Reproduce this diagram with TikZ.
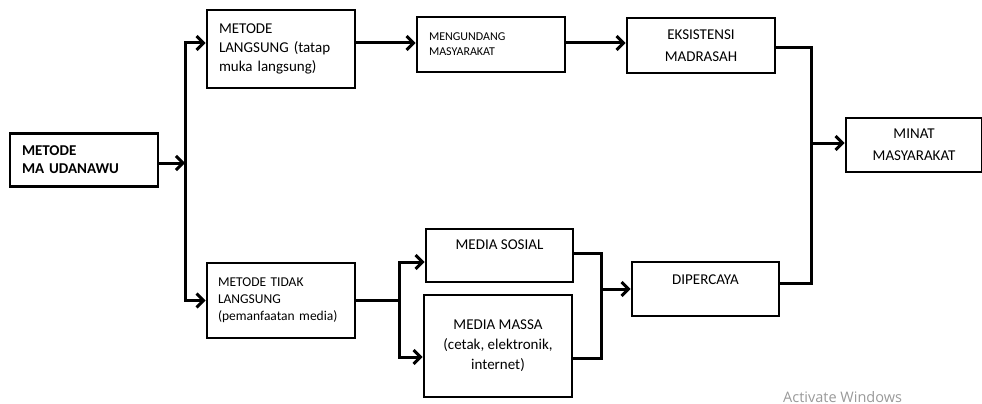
\documentclass[tikz,border=0pt]{standalone}
\usepackage{fontspec}
\setmainfont{Carlito}
\newfontfamily\wmfont{Open Sans}
\usetikzlibrary{arrows.meta}
\begin{document}
\begin{tikzpicture}[x=1pt,y=-1pt,
  box/.style={draw, line width=2.6pt, inner sep=0pt},
  lbox/.style={box, align=left, inner xsep=12pt, text width=124pt},
  cbox/.style={box, align=center},
  conn/.style={line width=3pt, line join=miter},
  arr/.style={-{Straight Barb[length=7pt,width=14pt]}},
  fbig/.style={font=\fontsize{15}{19}\selectfont}
]
\useasboundingbox (0,0) rectangle (982,404);

% boxes
\node[lbox, minimum height=53pt, font=\fontsize{15}{18}\selectfont\bfseries] (ma) at (84,160) {METODE\\MA UDANAWU};
\node[lbox, minimum height=78pt, fbig] (ml) at (281,49) {METODE\\LANGSUNG (tatap\\muka langsung)};
\node[lbox, minimum height=55pt, font=\fontsize{12}{15}\selectfont] (mg) at (491,44.5) {MENGUNDANG\\MASYARAKAT};
\node[cbox, minimum width=148pt, minimum height=55pt, font=\fontsize{15}{21.5}\selectfont] (ek) at (701,45.5) {EKSISTENSI\\MADRASAH};
\node[cbox, minimum width=136pt, minimum height=54pt, font=\fontsize{15}{22}\selectfont] (mn) at (914,145) {MINAT\\MASYARAKAT};
\node[box, align=left, inner xsep=11pt, text width=126pt, minimum height=75pt, font=\fontsize{13.5}{17}\selectfont] (mt) at (281,300.5) {METODE TIDAK\\LANGSUNG\\(pemanfaatan media)};
\node[box, minimum width=147pt, minimum height=53pt] (ms) at (499.5,255.5) {};
\node[fbig, anchor=base, inner sep=0pt] (tms) at ([yshift=-22pt]ms.north) {MEDIA SOSIAL};
\node[cbox, minimum width=148pt, minimum height=102pt, font=\fontsize{15}{20}\selectfont] (mm) at (498,346) {MEDIA MASSA\\(cetak, elektronik,\\internet)};
\node[box, minimum width=147pt, minimum height=54pt] (dp) at (705.5,289) {};
\node[fbig, anchor=base, inner sep=0pt] (tdp) at ([yshift=-24pt]dp.north) {DIPERCAYA};

% junction coordinates
\coordinate (j0) at (185,163);
\coordinate (sp1) at (185,43);
\coordinate (sp2) at (185,300.5);
\coordinate (m0) at (399,300.5);
\coordinate (m1) at (399,262);
\coordinate (m2) at (399,357);
\coordinate (n1) at (601,253);
\coordinate (n2) at (601,358);
\coordinate (n0) at (601,289);
\coordinate (r1) at (811,48);
\coordinate (r2) at (811,283);
\coordinate (r3) at (811,143);

% connectors
\draw[conn, arr] (ma.east|-j0) -- (j0);
\draw[conn, arr] (sp2) -- (sp1) -- (ml.west|-sp1);
\draw[conn, arr] (sp1) -- (sp2) -- (mt.west);
\draw[conn, arr] (ml.east|-sp1) -- (mg.west|-sp1);
\draw[conn, arr] (mg.east|-sp1) -- (ek.west|-sp1);
\draw[conn] (ek.east|-r1) -- (r1) -- (r2) -- (dp.east|-r2);
\draw[conn, arr] (r3) -- (mn.west|-r3);
\draw[conn] (mt.east) -- (m0);
\draw[conn, arr] (m0) -- (m1) -- (ms.west|-m1);
\draw[conn, arr] (m0) -- (m2) -- (mm.west|-m2);
\draw[conn] (ms.east|-n1) -- (n1) -- (n2) -- (mm.east|-n2);
\draw[conn, arr] (n0) -- (dp.west|-n0);

% watermark
\node[anchor=base west, inner sep=0pt, text=black!40, font=\wmfont\fontsize{14.5}{17}\selectfont] (wm) at (783,402) {Activate Windows};
\end{tikzpicture}
\end{document}
